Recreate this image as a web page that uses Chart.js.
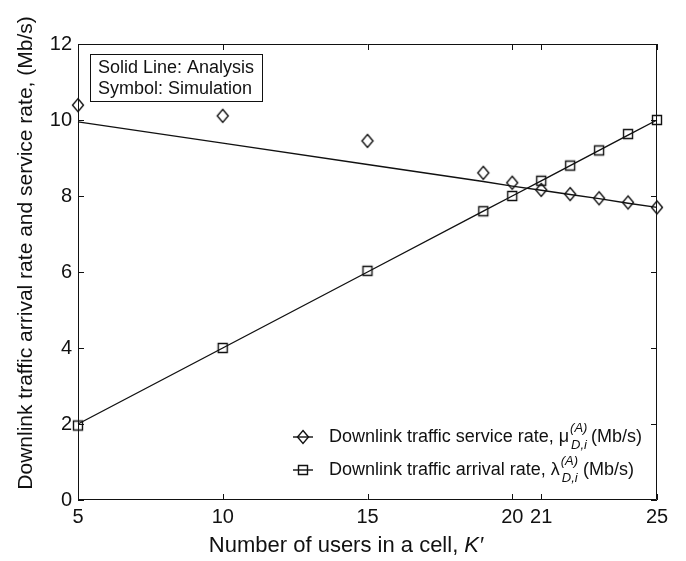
<!DOCTYPE html>
<html>
<head>
<meta charset="utf-8">
<script src="https://cdn.jsdelivr.net/npm/chart.js@4/dist/chart.umd.min.js"></script>
<style>
  html, body { margin: 0; padding: 0; background: #fff; }
  #wrap { width: 686px; height: 561px; }
</style>
</head>
<body>
<div id="wrap"><canvas id="c" width="686" height="561"></canvas></div>
<script>
// Number of users in a cell, K'
const users = [5, 10, 15, 19, 20, 21, 22, 23, 24, 25];
// Analytical curves (Mb/s)
const serviceAnalysis = [9.95, 9.39, 8.83, 8.38, 8.26, 8.15, 8.04, 7.93, 7.81, 7.70];
const arrivalAnalysis = [2.0, 4.0, 6.0, 7.6, 8.0, 8.4, 8.8, 9.2, 9.6, 10.0];
// Simulated points (Mb/s)
const serviceSim = [10.39, 10.11, 9.45, 8.61, 8.35, 8.16, 8.05, 7.94, 7.83, 7.70];
const arrivalSim = [1.96, 4.0, 6.03, 7.6, 8.0, 8.4, 8.8, 9.2, 9.63, 10.0];
// Axis ticks
const xTicks = [5, 10, 15, 20, 21, 25];
const yTicks = [0, 2, 4, 6, 8, 10, 12];

const FONT = '"Liberation Sans", Arial, Helvetica, sans-serif';
const INK = '#111';

const pairs = (xs, ys) => xs.map((x, i) => ({ x, y: ys[i] }));

// Open markers: tall diamond and square
function markerCanvas(kind) {
  const c = document.createElement('canvas');
  c.width = 16; c.height = 18;
  const g = c.getContext('2d');
  g.strokeStyle = INK;
  g.lineWidth = 1.4;
  g.beginPath();
  if (kind === 'diamond') {
    g.moveTo(8, 2.5); g.lineTo(13.5, 9); g.lineTo(8, 15.5); g.lineTo(2.5, 9); g.closePath();
  } else {
    g.rect(3.5, 4.5, 9, 9);
  }
  g.stroke();
  return c;
}
const diamondImg = markerCanvas('diamond');
const squareImg = markerCanvas('square');

// Frame, inward ticks, annotation box, legend and axis titles
const decorations = {
  id: 'decorations',
  afterDraw(chart) {
    const { ctx, chartArea: a, scales } = chart;
    const L = a.left, R = a.right, T = a.top, B = a.bottom;
    ctx.save();
    ctx.strokeStyle = INK;
    ctx.lineWidth = 1;
    ctx.beginPath();
    ctx.rect(L + 0.5, T + 0.5, R - L - 1, B - T - 1);
    ctx.stroke();

    const tl = 6;
    ctx.beginPath();
    xTicks.forEach(v => {
      const px = Math.round(scales.x.getPixelForValue(v)) + 0.5;
      ctx.moveTo(px, B); ctx.lineTo(px, B - tl);
      ctx.moveTo(px, T); ctx.lineTo(px, T + tl);
    });
    yTicks.forEach(v => {
      const py = Math.round(scales.y.getPixelForValue(v)) + 0.5;
      ctx.moveTo(L, py); ctx.lineTo(L + tl, py);
      ctx.moveTo(R, py); ctx.lineTo(R - tl, py);
    });
    ctx.stroke();

    // Annotation box
    ctx.fillStyle = '#fff';
    ctx.fillRect(91, 55, 171, 46);
    ctx.strokeRect(90.5, 54.5, 172, 47);
    ctx.fillStyle = INK;
    ctx.font = `18px ${FONT}`;
    ctx.textAlign = 'left';
    ctx.textBaseline = 'middle';
    ctx.fillText('Solid Line: Analysis', 98, 68);
    ctx.fillText('Symbol: Simulation', 98, 89);

    // Legend
    function legendRow(y, img, main, sup, sub, tail) {
      ctx.strokeStyle = INK;
      ctx.lineWidth = 1.4;
      ctx.beginPath(); ctx.moveTo(293, y); ctx.lineTo(313, y); ctx.stroke();
      ctx.drawImage(img, 303 - 8, y - 9);
      ctx.fillStyle = INK;
      ctx.textBaseline = 'middle';
      ctx.textAlign = 'left';
      ctx.font = `18px ${FONT}`;
      let x = 329;
      ctx.fillText(main, x, y);
      x += ctx.measureText(main).width + 1;
      ctx.font = `italic 13px ${FONT}`;
      ctx.fillText(sup, x, y - 9);
      ctx.fillText(sub, x + 1, y + 8);
      x += Math.max(ctx.measureText(sup).width, ctx.measureText(sub).width + 1);
      ctx.font = `18px ${FONT}`;
      ctx.fillText(tail, x, y);
    }
    legendRow(437, diamondImg, 'Downlink traffic service rate, \u03bc', '(A)', 'D,i', '\u2009(Mb/s)');
    legendRow(470, squareImg, 'Downlink traffic arrival rate, \u03bb', '(A)', 'D,i', ' (Mb/s)');

    // X axis title
    ctx.font = `22px ${FONT}`;
    const t1 = 'Number of users in a cell, ';
    const w1 = ctx.measureText(t1).width;
    ctx.font = `italic 22px ${FONT}`;
    const w2 = ctx.measureText('K\u2032').width;
    let xs = 346 - (w1 + w2) / 2;
    ctx.textAlign = 'left';
    ctx.font = `22px ${FONT}`;
    ctx.fillText(t1, xs, 546);
    ctx.font = `italic 22px ${FONT}`;
    ctx.fillText('K\u2032', xs + w1, 546);

    // Y axis title
    ctx.translate(26, 253);
    ctx.rotate(-Math.PI / 2);
    ctx.textAlign = 'center';
    ctx.font = `21px ${FONT}`;
    ctx.fillText('Downlink traffic arrival rate and service rate, (Mb/s)', 0, 0);
    ctx.restore();
  }
};

const lineStyle = { showLine: true, borderColor: INK, borderWidth: 1.4, pointRadius: 0, fill: false, tension: 0, clip: false };
const pointStyleOpts = img => ({ showLine: false, pointStyle: img, pointRadius: 7, pointHoverRadius: 7, clip: false });

new Chart(document.getElementById('c'), {
  type: 'scatter',
  data: {
    datasets: [
      { label: 'Service rate (analysis)', data: pairs(users, serviceAnalysis), ...lineStyle },
      { label: 'Arrival rate (analysis)', data: pairs(users, arrivalAnalysis), ...lineStyle },
      { label: 'Service rate (simulation)', data: pairs(users, serviceSim), ...pointStyleOpts(diamondImg) },
      { label: 'Arrival rate (simulation)', data: pairs(users, arrivalSim), ...pointStyleOpts(squareImg) }
    ]
  },
  options: {
    responsive: false,
    animation: false,
    devicePixelRatio: 1,
    layout: { padding: { left: 0, right: 29, top: 44, bottom: 0 } },
    plugins: { legend: { display: false }, tooltip: { enabled: false } },
    scales: {
      x: {
        type: 'linear', min: 5, max: 25,
        afterBuildTicks: s => { s.ticks = xTicks.map(v => ({ value: v })); },
        afterFit: s => { s.height = 61; },
        grid: { display: false, drawTicks: false },
        border: { display: false },
        ticks: { color: INK, font: { family: FONT, size: 20 }, padding: 5, maxRotation: 0, autoSkip: false }
      },
      y: {
        type: 'linear', min: 0, max: 12,
        afterBuildTicks: s => { s.ticks = yTicks.map(v => ({ value: v })); },
        afterFit: s => { s.width = 78; },
        grid: { display: false, drawTicks: false },
        border: { display: false },
        ticks: { color: INK, font: { family: FONT, size: 20 }, padding: 6 }
      }
    }
  },
  plugins: [decorations]
});
</script>
</body>
</html>
